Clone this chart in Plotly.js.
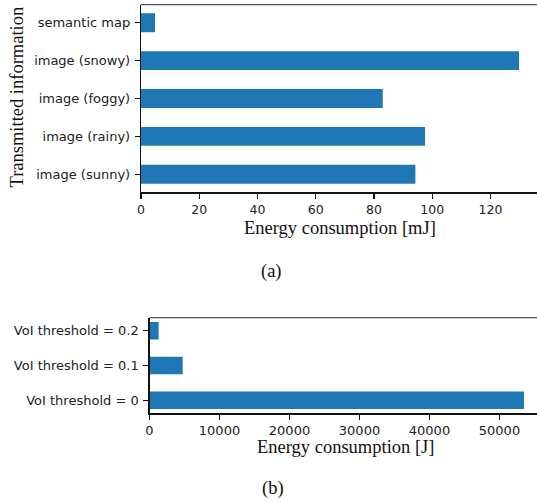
<!DOCTYPE html>
<html>
<head>
<meta charset="utf-8">
<script src="https://cdn.plot.ly/plotly-3.0.1.min.js"></script>
<style>
html,body{margin:0;padding:0;overflow:hidden;background:#fff;}
#chart{width:546px;height:502px;}
</style>
</head>
<body>
<div id="chart"></div>
<script>
// ---- data ----
const categoriesA = ['image (sunny)', 'image (rainy)', 'image (foggy)', 'image (snowy)', 'semantic map'];
const energyA_mJ = [94.2, 97.5, 83.0, 129.8, 4.8];
const ticksA = [0, 20, 40, 60, 80, 100, 120];

const categoriesB = ['VoI threshold = 0', 'VoI threshold = 0.1', 'VoI threshold = 0.2'];
const energyB_J = [53500, 4740, 1310];
const ticksB = [0, 10000, 20000, 30000, 40000, 50000];

const titleAx = 'Energy consumption [mJ]';
const titleAy = 'Transmitted information';
const titleBx = 'Energy consumption [J]';
const captionA = '(a)';
const captionB = '(b)';

// ---- layout helpers ----
const W = 546, H = 502;
const px = v => v / W;
const py = v => 1 - v / H;
const barColor = '#1f77b4';
const tickFont = {family: 'DejaVu Sans', size: 13, color: '#222'};
const tickFontSmall = {family: 'DejaVu Sans', size: 12.5, color: '#222'};
const serif = {family: 'Liberation Serif', size: 18.5, color: '#111'};

const traces = [
  {type: 'bar', orientation: 'h', x: energyA_mJ, y: categoriesA, width: 0.5,
   marker: {color: barColor, line: {width: 0}}, xaxis: 'x', yaxis: 'y', hoverinfo: 'x+y'},
  {type: 'bar', orientation: 'h', x: energyB_J, y: categoriesB, width: 0.5,
   marker: {color: barColor, line: {width: 0}}, xaxis: 'x2', yaxis: 'y2', hoverinfo: 'x+y'}
];

const axisCommon = {
  showgrid: false, zeroline: false, showline: true, linecolor: '#111', linewidth: 1.2,
  ticks: 'outside', ticklen: 5, tickwidth: 1.2, tickcolor: '#111', tickfont: tickFont
};

const layout = {
  width: W, height: H,
  margin: {l: 0, r: 0, t: 0, b: 0},
  paper_bgcolor: '#fff', plot_bgcolor: '#fff',
  showlegend: false,
  xaxis: Object.assign({}, axisCommon, {
    domain: [px(141), px(538)], anchor: 'y', range: [0, 136.3],
    tickvals: ticksA, tickformat: 'd', tickfont: tickFontSmall
  }),
  yaxis: Object.assign({}, axisCommon, {
    domain: [py(192.3), py(4.7)], anchor: 'x', type: 'category',
    range: [-0.475, 4.475], ticklabelstandoff: 2
  }),
  xaxis2: Object.assign({}, axisCommon, {
    domain: [px(149.5), px(542.7)], anchor: 'y2', range: [0, 56175],
    tickvals: ticksB, tickformat: 'd'
  }),
  yaxis2: Object.assign({}, axisCommon, {
    domain: [py(413.3), py(317.7)], anchor: 'x2', type: 'category',
    range: [-0.375, 2.375], ticklabelstandoff: 2
  }),
  shapes: [
    {type: 'line', xref: 'paper', yref: 'paper', x0: px(141), x1: px(538), y0: py(4.7), y1: py(4.7),
     line: {color: '#555', width: 1.2}},
    {type: 'line', xref: 'paper', yref: 'paper', x0: px(149.5), x1: px(542.7), y0: py(317.7), y1: py(317.7),
     line: {color: '#555', width: 1.2}}
  ],
  annotations: [
    {text: titleAy, xref: 'paper', yref: 'paper', x: px(16), y: py(97.5), textangle: -90,
     showarrow: false, xanchor: 'center', yanchor: 'middle', font: serif},
    {text: titleAx, xref: 'paper', yref: 'paper', x: px(339.5), y: py(228),
     showarrow: false, xanchor: 'center', yanchor: 'middle', font: serif},
    {text: captionA, xref: 'paper', yref: 'paper', x: px(271.5), y: py(271),
     showarrow: false, xanchor: 'center', yanchor: 'middle', font: serif},
    {text: titleBx, xref: 'paper', yref: 'paper', x: px(345.8), y: py(447),
     showarrow: false, xanchor: 'center', yanchor: 'middle', font: serif},
    {text: captionB, xref: 'paper', yref: 'paper', x: px(272.5), y: py(488),
     showarrow: false, xanchor: 'center', yanchor: 'middle', font: serif}
  ]
};

Plotly.newPlot('chart', traces, layout, {displayModeBar: false, staticPlot: true});
</script>
</body>
</html>
